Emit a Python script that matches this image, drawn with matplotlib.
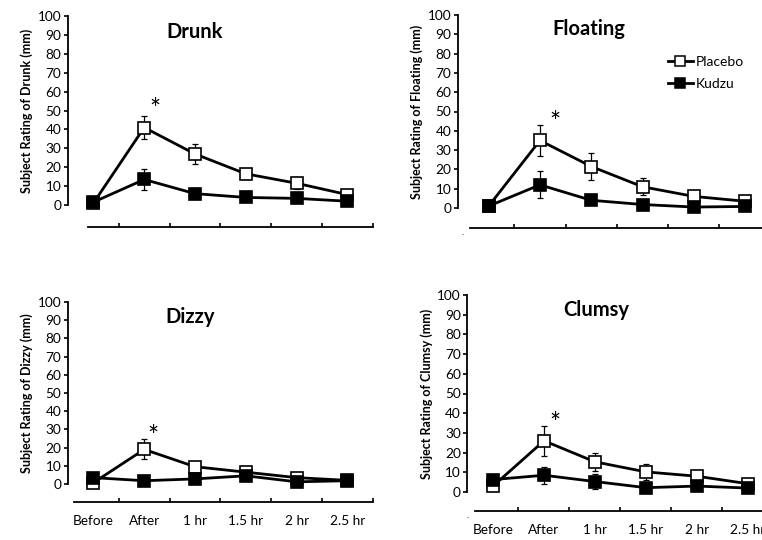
import matplotlib
matplotlib.use('Agg')
import matplotlib.pyplot as plt
from matplotlib.lines import Line2D

plt.rcParams['font.family'] = ['Lato', 'DejaVu Sans']

timepoints = ['Before', 'After', '1 hr', '1.5 hr', '2 hr', '2.5 hr']

drunk_placebo = [1, 41, 27, 16.5, 11.5, 5.5]
drunk_placebo_se = [0.5, 6, 5.5, 2.8, 3.2, 1]
drunk_kudzu = [1.5, 13.5, 6, 4, 3.5, 2]
drunk_kudzu_se = [1, 5.3, 3, 1.2, 2, 1]

floating_placebo = [1, 35, 21.5, 11, 6, 3.5]
floating_placebo_se = [0.5, 8, 7, 4.3, 1.2, 1]
floating_kudzu = [1, 12, 4, 1.8, 0.5, 0.8]
floating_kudzu_se = [0.5, 7, 1, 1, 0.5, 0.5]

dizzy_placebo = [0.7, 19, 9.5, 6.5, 3.5, 2]
dizzy_placebo_se = [0.5, 5.5, 2.2, 2.2, 1, 0.5]
dizzy_kudzu = [3.5, 1.8, 2.8, 4.5, 1.2, 1.8]
dizzy_kudzu_se = [1, 0.5, 1, 2, 0.5, 0.5]

clumsy_placebo = [3, 26, 15.3, 10.2, 8, 4.2]
clumsy_placebo_se = [1, 7.5, 4.4, 3.9, 1.5, 1]
clumsy_kudzu = [6.3, 8.5, 5.3, 2.2, 3, 2]
clumsy_kudzu_se = [1.5, 4.4, 3.6, 1, 1.5, 1]

yticks = list(range(0, 101, 10))

W, H, DPI = 762, 540, 100
PT = 72.0 / DPI  # points per pixel

fig = plt.figure(figsize=(W / DPI, H / DPI), dpi=DPI)


def make_panel(left, width, y0, y100, axis_gap, xstart, spine_out, title, title_pos,
               star_pos, placebo, placebo_se, kudzu, kudzu_se, show_labels, dot=False):
    ax = fig.add_axes([left / W, (H - y0) / H, width / W, (y0 - y100) / H])
    ax.set_xlim(-0.5, 5.5)
    ax.set_ylim(0, 100)
    ax.patch.set_alpha(0)
    for s in ['top', 'right']:
        ax.spines[s].set_visible(False)
    ax.spines['left'].set_bounds(0, 100)
    ax.spines['left'].set_position(('outward', spine_out * PT))
    ax.spines['left'].set_linewidth(1.3)
    ax.spines['bottom'].set_position(('outward', axis_gap * PT))
    ax.spines['bottom'].set_bounds(xstart, 5.5)
    ax.spines['bottom'].set_linewidth(1.3)
    ax.set_yticks(yticks)
    ax.tick_params(axis='y', direction='out', length=4 * PT, width=1.2,
                   labelsize=9.8, pad=2)
    ax.set_xticks([0.5, 1.5, 2.5, 3.5, 4.5, 5.5])
    ax.set_xticklabels([])
    ax.tick_params(axis='x', which='major', direction='in', length=4 * PT, width=1.2)
    x = list(range(len(timepoints)))
    ax.set_xticks(x, minor=True)
    if show_labels:
        ax.set_xticklabels(timepoints, minor=True)
    ax.tick_params(axis='x', which='minor', length=0, labelsize=9.8, pad=9.5)
    ax.set_ylabel('Subject Rating of %s (mm)' % title, fontsize=9,
                  fontweight='bold', labelpad=3)

    ax.errorbar(x, placebo, yerr=placebo_se, fmt='none', ecolor='black',
                elinewidth=0.9, capsize=2.2, capthick=0.9, zorder=2, clip_on=False)
    ax.errorbar(x, kudzu, yerr=kudzu_se, fmt='none', ecolor='black',
                elinewidth=0.9, capsize=2.2, capthick=0.9, zorder=2, clip_on=False)
    ax.plot(x, placebo, color='black', lw=2, marker='s', markersize=8.5,
            markerfacecolor='white', markeredgecolor='black', markeredgewidth=1.2,
            zorder=3, clip_on=False)
    ax.plot(x, kudzu, color='black', lw=2, marker='s', markersize=8.5,
            markerfacecolor='black', markeredgecolor='black', markeredgewidth=1.2,
            zorder=4, clip_on=False)

    ax.text(title_pos[0], title_pos[1], title, transform=ax.transAxes,
            fontsize=14.5, fontweight='bold', ha='center', va='center')
    ax.text(star_pos[0], star_pos[1], '*', fontsize=19, ha='center', va='center')
    if dot:
        ax.annotate('.', xy=(-0.5, 0), xycoords='data',
                    xytext=(0, -axis_gap * PT - 3), textcoords='offset points',
                    ha='center', va='center', fontsize=7, annotation_clip=False)
    return ax


make_panel(68, 304.8, 205, 16, 22, -0.1, 0, 'Drunk', (0.414, 0.915), (1.22, 50),
           drunk_placebo, drunk_placebo_se, drunk_kudzu, drunk_kudzu_se, False)
axf = make_panel(463, 307.8, 208, 15, 20, -0.37, 5, 'Floating', (0.41, 0.927), (1.29, 43.6),
                 floating_placebo, floating_placebo_se, floating_kudzu, floating_kudzu_se,
                 False, dot=True)
make_panel(68, 304.8, 484, 302, 18, -0.39, 0, 'Dizzy', (0.40, 0.919), (1.18, 25.5),
           dizzy_placebo, dizzy_placebo_se, dizzy_kudzu, dizzy_kudzu_se, True)
make_panel(467.5, 306, 492, 295, 19, -0.35, 0, 'Clumsy', (0.42, 0.924), (1.22, 34.5),
           clumsy_placebo, clumsy_placebo_se, clumsy_kudzu, clumsy_kudzu_se, True, dot=True)

handles = [
    Line2D([], [], color='black', lw=2, marker='s', markersize=6.5,
           markerfacecolor='white', markeredgecolor='black', markeredgewidth=1.1),
    Line2D([], [], color='black', lw=2, marker='s', markersize=6.5,
           markerfacecolor='black', markeredgecolor='black', markeredgewidth=1.1),
]
axf.legend(handles, ['Placebo', 'Kudzu'], loc='upper left',
           bbox_to_anchor=(0.665, 0.79), frameon=False, fontsize=10,
           handlelength=1.8, handletextpad=0.2, labelspacing=0.75, borderpad=0,
           borderaxespad=0)

fig.savefig('out.png', dpi=DPI)
